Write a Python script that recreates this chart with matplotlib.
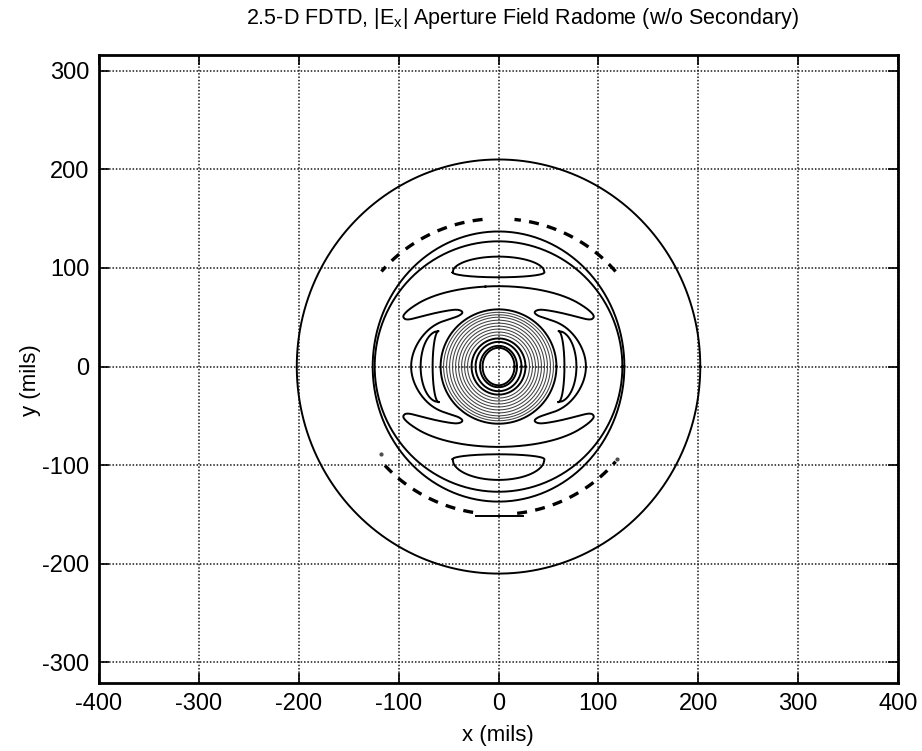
import numpy as np
import matplotlib
matplotlib.use("Agg")
import matplotlib.pyplot as plt

plt.rcParams['font.family'] = ['Liberation Sans', 'DejaVu Sans']
plt.rcParams['axes.unicode_minus'] = False

# axis ticks
X_TICKS = [-400, -300, -200, -100, 0, 100, 200, 300, 400]
Y_TICKS = [-300, -200, -100, 0, 100, 200, 300]

# closed elliptical contours (semi-axes in mils)
OUTER_RX, OUTER_RY = 202, 210
RING_RX = [126, 124]
RING_RY = [137, 127]

# central spot rings
DISC_RX = [16, 18.5, 23, 27, 31, 34, 37, 40, 43, 46, 49, 52, 55, 58]
DISC_RY = [19, 21, 25, 28.5, 32, 35, 38, 41, 44, 47, 50, 52.5, 55, 58]
DISC_BOLD = [1, 1, 1, 1, 0, 0, 0, 0, 0, 0, 0, 0, 0, 1]

# broken contour near r=150
DASH_RX, DASH_RY = 153, 150
DASH_ARCS_DEG = [(40, 84), (96, 140), (222, 263), (277, 320)]
BAR_X = [-23, 25]
BAR_Y = [-152, -152]
DOTS_X = [-118, 119]
DOTS_Y = [-89, -94]

# winged contour around the spot, upper-left quarter (mirrored to the others)
WING_X = [0, -30, -55, -74, -87, -94, -96, -92, -80, -65, -50, -40, -35, -40, -50, -61, -71, -80, -86, -88]
WING_Y = [82, 80, 75, 68, 60, 54, 50, 47, 50, 54, 57, 58, 55, 51, 48, 44, 37, 26, 13, 0]

# side crescents: tip x, inner bulge, outer bulge, half height
CRES_TIP, CRES_IN, CRES_OUT, CRES_H = 60, 6, 18, 36

# top / bottom lobes: centre y, outer bulge, inner bulge, half width
LOBE_YC = [95.5, -94]
LOBE_OUT = [16, 21]
LOBE_IN = [5, 5]
LOBE_W = [46, 46]

LW = 1.4


def chaikin(pts, n=3):
    for _ in range(n):
        q = np.roll(pts, -1, axis=0)
        new = np.empty((2 * len(pts), 2))
        new[0::2] = 0.75 * pts + 0.25 * q
        new[1::2] = 0.25 * pts + 0.75 * q
        pts = new
    return np.vstack([pts, pts[:1]])


fig = plt.figure(figsize=(9.22, 7.51), dpi=100)
ax = fig.add_axes([0.1074, 0.0905, 0.8666, 0.8363])

t = np.linspace(0, 2 * np.pi, 400)

# outer ring and the two rings around the pattern
ax.plot(OUTER_RX * np.cos(t), OUTER_RY * np.sin(t), color='k', lw=LW)
for rx, ry in zip(RING_RX, RING_RY):
    ax.plot(rx * np.cos(t), ry * np.sin(t), color='k', lw=LW)

# central spot
for rx, ry, bold in zip(DISC_RX, DISC_RY, DISC_BOLD):
    if bold:
        ax.plot(rx * np.cos(t), ry * np.sin(t), color='k', lw=LW)
    else:
        ax.plot(rx * np.cos(t), ry * np.sin(t), color='0.25', lw=0.75)

# broken arcs
for a0, a1 in DASH_ARCS_DEG:
    a = np.radians(np.linspace(a0, a1, 80))
    ax.plot(DASH_RX * np.cos(a), DASH_RY * np.sin(a), color='k', lw=2.4,
            linestyle=(0, (3, 2.5)))
ax.plot(BAR_X, BAR_Y, color='k', lw=LW)
ax.plot(DOTS_X, DOTS_Y, 'o', color='0.3', ms=2)

# winged contour
q = np.column_stack([WING_X, WING_Y]).astype(float)
ll = q[::-1][1:] * [1, -1]
left = np.vstack([q, ll])
right = left[::-1][1:-1] * [-1, 1]
wing = chaikin(np.vstack([left, right]))
ax.plot(wing[:, 0], wing[:, 1], color='k', lw=LW)

# crescents
u = np.linspace(-1, 1, 100)
s = np.sqrt(1 - u ** 2)
for side in (-1, 1):
    xo = side * (CRES_TIP + CRES_OUT * s)
    xi = side * (CRES_TIP + CRES_IN * s)
    ax.plot(np.r_[xo, xi[::-1]], np.r_[CRES_H * u, CRES_H * u[::-1]], color='k', lw=LW)

# lobes
for yc, ho, hi, w in zip(LOBE_YC, LOBE_OUT, LOBE_IN, LOBE_W):
    sg = np.sign(yc)
    yo = yc + sg * ho * s
    yi = yc - sg * hi * s
    ax.plot(np.r_[w * u, w * u[::-1]], np.r_[yo, yi[::-1]], color='k', lw=LW)

ax.set_xlim(-400, 400)
ax.set_ylim(-321, 316)
ax.set_xticks(X_TICKS)
ax.set_yticks(Y_TICKS)
ax.grid(True, color='0.1', linestyle=(0, (1, 1.2)), lw=1.1)
ax.set_axisbelow(True)
ax.tick_params(direction='in', length=7, width=1.2, top=True, right=True,
               labelsize=17, pad=7)
for sp in ax.spines.values():
    sp.set_linewidth(2)

fig.text(0.567, 0.976,
         r'2.5-D FDTD, |E$_\mathregular{x}$| Aperture Field Radome (w/o Secondary)',
         ha='center', va='center', fontsize=15.5)
fig.text(0.54, 0.02, 'x (mils)', ha='center', va='center', fontsize=16)
fig.text(0.033, 0.494, 'y (mils)', ha='center', va='center', rotation=90, fontsize=16)

fig.savefig('out.png', dpi=100)
